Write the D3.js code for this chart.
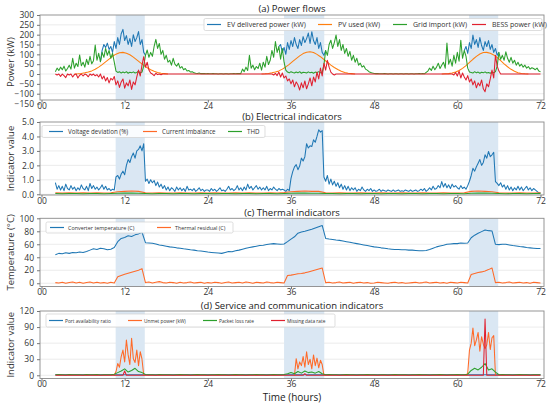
<!DOCTYPE html>
<html><head><meta charset="utf-8">
<script src="https://cdn.jsdelivr.net/npm/d3@7"></script>
<style>body{margin:0;background:#fff}svg{display:block}</style>
</head><body><svg id="c" width="550" height="407"></svg>
<script>
// ---------------- DATA ----------------
const xTickValues = [0, 12, 24, 36, 48, 60, 72];
const xTickLabels = ['00', '12', '24', '36', '48', '60', '72'];
const anomalyWindows = [[10.7, 14.9], [35.0, 40.8], [61.7, 65.9]];

// Grid import (kW), every 0.25 h from 2 h
const gridImport = [
 12,30,18,35, 22,40,15,28, 45,25,80,30, 55,38,97,42, 60,35,75,48, 90,52,68,147, 70,105,62,110, 85,130,95,120, 80,105,60,15,
 8,12,5,10, 6,12,4,9, 6,11,5,8, 14,6,10,40,
 95,122,85,110, 90,140,176,130, 155,100,120,75, 95,60,70,45, 80,50,40,55, 30,38,22,28, 15,18,10,12,
 6,4,3,5, 2,3,2,1, 2,1,1,2, 1,1,0,1, 1,0,1,1, 0,1,1,2, 1,2,3,2,
 25,12,35,18, 95,30,45,22, 38,28,55,20, 60,35,90,48, 70,120,85,165, 110,140,75,130,
 60,20,10,6, 12,8,5,10, 6,12,4,9, 8,5,11,6, 9,4,10,7, 12,6,8,45,
 120,95,150,172, 130,160,198,140, 175,120,150,105, 130,90,115,70, 95,60,80,45, 55,35,42,25, 20,12,8,5,
 3,2,2,1, 1,1,2,1, 0,1,1,0, 1,1,0,1, 1,0,1,1, 0,1,1,0, 1,1,2,1, 2,1,8,15,
 30,18,40,22, 35,55,28,45, 60,30,157,50, 75,40,95,55, 110,65,172,80, 120,90,30,10,
 8,5,12,6, 10,4,9,6, 11,5,8,4, 9,6,12,40,
 110,75,95,70, 113,80,60,85, 55,70,45,60, 40,50,35,45, 30,38,25,32, 28,22,30,15, 12
];
// BESS power (kW), every 0.25 h from 2 h
const bessPower = [
 0,-5,0,-12, 0,-8,-18,0, -5,0,-15,-3, 0,-20,-6,0, -10,0,-4,-14, 0,-6,0,-9, -3,-15,0,-25, -10,-35,-18,-45,
 -22,-30,-12,-55, -35,-68,-40,-25, -72,-45,-60,-30, -78,-40,-55,-15, 20,-10,45,88, 35,60,20,5, 0,-8,4,-3, 0,-4,0,0,
 0,0,0,0, 0,0,0,0, 0,0,0,0, 0,0,0,0, 0,0,0,0, 0,0,0,0, 0,0,0,0, 0,0,0,0, 0,0,0,0, 0,0,0,0,
 0,0,0,0, 0,0,0,0, 0,0,0,0, 0,0,0,0, 0,0,0,0,
 0,0,-5,3, -8,10,-15,5, -20,-10,-35,-25, -50,-30,-65,-40, -55,-81,-45,-70, -35,-75,-50,-20, -60,-15,-40,10,
 -25,30,-10,55, 20,70,35,10, 0,-5,0,0,
 0,0,0,0, 0,0,0,0, 0,0,0,0, 0,0,0,0, 0,0,0,0, 0,0,0,0, 0,0,0,0, 0,0,0,0, 0,0,0,0, 0,0,0,0,
 0,0,0,0, 0,0,0,0, 0,0,0,0, 0,0,0,0, 0,0,0,0, 0,0,0,0,
 0,0,-5,8, -10,15,-20,5, -15,-30,-8,-40, -25,-55,-35,-70, -45,-60,-30,-75, -90,-50,-65,-25, 20,-20,95,40, 15,0,0,0,
 0,0,0,0, 0,0,0,0, 0,0,0,0, 0,0,0,0, 0,0,0,0, 0
];
// EV delivered power (kW), every 0.25 h, visible stretches
const evStarts = [8.5, 34.25, 61.0];
const evDay1 = [62,120,150,135,157,125,140,110,165,130,185,150,205,227,170,195,150,180,140,200,165,185,216,150,175,110,95];
const evDay2 = [140,150,110,135,100,160,125,170,140,185,150,130,175,145,190,160,180,208,155,215,170,150,185,130,160,110,95,120];
const evDay3 = [120,140,105,160,130,198,150,175,135,185,145,120,165,140,170,125,150,110,130,95,110];
// PV used (kW), every 0.5 h
const pvStarts = [4.75, 31.75, 57.75];
const pvDay1 = [0,1,3,6,10,16,24,35,48,62,76,90,101,108,110,106,98,86,72,58,44,32,22,14,8,4,2,0];
const pvDay2 = [0,1,3,6,10,16,25,36,49,64,78,92,104,111,113,109,100,88,74,60,45,33,23,14,8,4,2,0];
const pvDay3 = [0,1,2,5,10,18,29,43,59,75,90,102,109,110,106,97,84,68,52,37,24,14,7,3,1,0];

// Voltage deviation (%), every 0.25 h from 2 h
const voltageDev = [
 .8,.35,.6,.3, .55,.25,.7,.4, .3,.6,.35,.5, .25,.45,.3,.65, .4,.3,.55,.25, .75,.4,.6,.35, .5,.3,.45,.65, .35,.55,.3,.4,
 .25,.35,.3,1.2, 1.3,1.05,1.4,1.6, 1.35,2.0,2.4,2.2, 2.6,2.85,2.5,3.0, 3.1,3.35,3.0,3.5,
 .9,1.05,.75,1.0, .8,.95,.6,.85, .5,.7,.4,.6, .3,.5,.25,.45, .35,.2,.5,.3, .45,.25,.4,.2, .55,.3,.35,.25,
 .4,.2,.3,.45, .25,.35,.2,.3, .3,.2,.4,.25, .35,.2,.3,.45, .25,.3,.2,.35, .55,.3,.4,.25, .35,.6,.3,.45,
 .25,.5,.3,.7, .4,.55,.3,.45, .6,.35,.5,.3, .45,.3,.55,.25, .4,.3,.5,.35, .25,.4,.3,.35, .3,.2,.35,.25,
 1.1,1.57,1.9,2.05, 1.7,1.95,2.5,2.3, 2.6,3.5,3.2,3.35, 3.3,3.77,3.6,4.0, 4.46,4.3,4.4,1.2,
 .9,1.3,.7,1.05, .65,.9,.55,.8, .45,.7,.35,.6, .3,.55,.25,.45, .3,.45,.2,.35, .25,.5,.3,.2, .35,.25,.4,.2,
 .3,.2,.25,.35, .2,.3,.25,.2, .3,.25,.2,.3, .2,.25,.3,.2, .25,.2,.3,.25, .2,.3,.2,.25, .3,.2,.25,.35, .25,.4,.2,.3,
 .45,.3,.55,.35, .4,.6,.45,.88, .5,.75,.45,.65, .4,.7,.5,.6, .45,.35,.6,.4, .5,.35,.6,.9,
 1.3,1.8,1.6,1.9, 2.15,2.4,2.0,2.2, 2.73,2.5,2.96,2.6, 2.73,2.9,.88,.75,
 .6,.8,.5,.65, .35,.6,.3,.5, .25,.45,.3,.55, .3,.5,.25,.4, .55,.3,.45,.25, .4,.3,.2,.1, .1
];
// hourly from 2 h
const currentImbalance = [
 .1,.08,.1,.09,.1,.08,.1,.09,.1,.18,.2,.22,.2,.1,
 .09,.1,.08,.09,.1,.08,.09,.1,.08,.1,.09,.08,.1,.09,.1,.08,.09,.1,.09,
 .12,.18,.2,.22,.2,.2,.1,
 .09,.1,.08,.09,.1,.08,.09,.1,.08,.09,.1,.08,.09,.1,.08,.09,.1,.08,.09,.1,
 .2,.22,.2,.18,.1,
 .09,.08,.1,.09,.08,.1
];
const thd = [
 .05,.04,.05,.05,.04,.05,.05,.04,.05,.07,.08,.08,.07,.05,
 .04,.05,.05,.04,.05,.05,.04,.05,.05,.04,.05,.05,.04,.05,.05,.04,.05,.05,.04,
 .06,.07,.08,.08,.07,.07,.05,
 .05,.04,.05,.05,.04,.05,.05,.04,.05,.05,.04,.05,.05,.04,.05,.05,.04,.05,.05,.04,
 .07,.08,.08,.07,.05,
 .04,.05,.05,.04,.05,.05
];
// Converter temperature (C), every 0.5 h from 2 h
const converterTemp = [
 44,46, 45.5,47, 46,47.5, 47,48, 47.5,49, 51,53, 52,54, 53,51.5, 52.5,55,
 64,69, 70.5,73, 72,74.5, 76,78.5,
 62.5,62, 61.5,60.5, 59,58, 57,56, 55.5,54.5, 54,53, 52.5,51.5, 51,50, 49.5,49, 48,47.5, 47,46.5, 46,47.5,
 49,48.5, 50,51, 52.5,54, 55,56, 57,58, 58.5,59.5, 60.5,61, 60.5,60, 60.5,64,
 68,71.5, 77,79, 80,81.5, 83,85, 87,89,
 69,68, 67.5,66.5, 66,65, 64,63, 62,61, 60,59, 58,57, 56,55.5, 54.5,54, 53,52.5, 52,52, 51.5,51.5, 51,51,
 50.5,50, 50,50.5, 52,54, 56,57.5, 58.5,60, 60.5,61, 61,62, 61.5,62,
 70,74, 77,79.5, 82,81, 80.5,60,
 59.5,60, 60,59, 58,57.5, 56.5,56, 55,54.5, 54,53.5, 53.5
];
const thermalResidual = [
 1,.5, 1.5,0, 1,2, .5,1.5, 0,1, 2,.5, 1.5,.5, 1,0, 1.5,.5,
 10,12, 14,15.5, 17,18.5, 20,22.5,
 1,2, .5,1.5, 2.5,1, .5,1.5, 1,0, 1.5,.5, 1,2, .5,1, 1.5,0, 1,.5, 1.5,1, 0,1, 2,.5, 1,1.5, .5,2, 1,0, 1.5,1, .5,2, 1,.5, 1.5,1,
 .5,12, 12.5,13.5, 14.5,15, 16,17.5, 19,20.5, 22,23.5,
 1,1.5, .5,1, 2,.5, 1,1.5, 0,1, 1.5,.5, 1,0, .5,1.5, 1,.5, 0,1, 1.5,.5, 1,0, .5,1, 1.5,.5, 1,2, .5,1, 1.5,.5, 1,0, 1.5,1, .5,1.5, 1,.5,
 13.5,15, 16.5,17.5, 19,21, 23.5,1,
 1.5,.5, 1,2, .5,1, 1.5,.5, 1,0, 1.5,1, .5
];
// Service indicators
const portAvailability = [
 1,1,1,1,1,1,1,1,1,.9,.85,.85,.9,1,
 1,1,1,1,1,1,1,1,1,1,1,1,1,1,1,1,1,1,1,
 .95,.9,.85,.85,.85,.9,1,
 1,1,1,1,1,1,1,1,1,1,1,1,1,1,1,1,1,1,1,1,
 .9,.85,.85,.9,1,
 1,1,1,1,1,1
];
const unmetStarts = [10.5, 36.5, 61.25];
const unmetDay1 = [0,7,22,15,35,47,25,66,38,20,69,31,24,47,18,44,30,0];
const unmetDay2 = [0,31,12,25,18,35,15,44,20,30,12,38,18,32,14,28,20,0];
const unmetDay3 = [0,4,47,60,88,55,66,80,45,72,58,50,57,80,48,70,74,0];
// every 0.5 h from 2 h
const packetLoss = [
 1,1.5, 1,.5, 1.5,1, 1,1, .5,1.5, 1,1, 1.5,.5, 1,1, 1,2,
 5,8, 12,6, 9,13, 7,5, 1.5,1,
 1,.5, 1.5,1, 1,1, .5,1, 1.5,1, 1,.5, 1,1.5, 1,1, .5,1, 1,1.5, 1,1, .5,1, 1.5,1, 1,.5, 1,1, 1.5,1, 1,.5, 1,1.5, 1,1,
 1.5,3, 5,3, 7,4, 8,5, 6,4, 7,3, 1,1.5,
 1,1, .5,1, 1.5,1, 1,.5, 1,1, 1.5,1, 1,.5, 1,1, .5,1, 1.5,1, 1,1, .5,1, 1,1.5, 1,1, .5,1, 1,1.5, 1,.5, 1,1, 1.5,1, 1,2,
 9,13, 10,15, 22,10, 12,6, 1,1.5,
 1,1, .5,1, 1.5,1, 1,.5, 1,1, 1
];
// [hour, value]
const missingData = [[2,0],[11.75,0],[12,8],[12.25,0],[37.75,0],[38,3],[38.25,0],[63.75,0],[64,105],[64.25,0],[72,0]];

// ---------------- DRAWING ----------------
const FONT = '"Open Sans","Noto Sans",sans-serif';
const svg = d3.select('#c');
const L = 40, R = 544;
const x = d3.scaleLinear().domain([0, 72]).range([41.5, 540.5]);
const seq = (t0, step, vals) => vals.map((v, i) => [t0 + i * step, v]);

const C = {blue:'#1f77b4', orange:'#ff7f0e', orange2:'#ff6a28', green:'#2ca02c', red:'#e0202f', teal:'#1f77b4'};

const panels = [
 {title:'(a) Power flows', titleY:11.5, ylab:'Power (kW)', ylabY:62, top:15, bottom:100, domain:[-132,300],
  yTicks:[-150,-100,-50,0,50,100,150,200,250,300],
  series:[
   {label:'EV delivered power (kW)', color:C.blue, segs:[seq(evStarts[0],.25,evDay1),seq(evStarts[1],.25,evDay2),seq(evStarts[2],.25,evDay3)]},
   {label:'PV used (kW)', color:C.orange, segs:[seq(pvStarts[0],.5,pvDay1),seq(pvStarts[1],.5,pvDay2),seq(pvStarts[2],.5,pvDay3)]},
   {label:'Grid import (kW)', color:C.green, segs:[seq(2,.25,gridImport)]},
   {label:'BESS power (kW)', color:C.red, segs:[seq(2,.25,bessPower)]}
  ],
  legend:{x:204, y:18.5, w:338, h:12, font:7, lineX:[207,318,393,472], off:20}},
 {title:'(b) Electrical indicators', titleY:120, ylab:'Indicator value', top:122, bottom:195, domain:[-0.05,5],
  yTicks:[0,1,2,3,4,5],
  series:[
   {label:'Voltage deviation (%)', color:C.blue, segs:[seq(2,.25,voltageDev)]},
   {label:'Current imbalance', color:C.orange2, segs:[seq(2,1,currentImbalance)]},
   {label:'THD', color:C.green, segs:[seq(2,1,thd)]}
  ],
  legend:{x:42, y:125.5, w:223, h:12, font:6.2, lineX:[49,143,228], off:19}},
 {title:'(c) Thermal indicators', titleY:215.5, ylab:'Temperature (°C)', top:218.3, bottom:286.5, domain:[-5,100],
  yTicks:[0,20,40,60,80,100],
  series:[
   {label:'Converter temperature (C)', color:C.blue, segs:[seq(2,.5,converterTemp)]},
   {label:'Thermal residual (C)', color:C.orange2, segs:[seq(2,.5,thermalResidual)]}
  ],
  legend:{x:46, y:222, w:187, h:11, font:5.4, lineX:[50,157], off:18}},
 {title:'(d) Service and communication indicators', titleY:309, ylab:'Indicator value', top:311, bottom:378.5, domain:[-6,120],
  yTicks:[0,30,60,90,120],
  series:[
   {label:'Port availability ratio', color:C.teal, segs:[seq(2,1,portAvailability)]},
   {label:'Unmet power (kW)', color:C.orange2, segs:[seq(unmetStarts[0],.25,unmetDay1),seq(unmetStarts[1],.25,unmetDay2),seq(unmetStarts[2],.25,unmetDay3)]},
   {label:'Packet loss rate', color:C.green, segs:[seq(2,.5,packetLoss)]},
   {label:'Missing data rate', color:C.red, segs:[missingData]}
  ],
  legend:{x:46, y:314, w:289, h:13, font:4.8, lineX:[49,128,203,271], off:16}}
];

panels.forEach((p, pi) => {
  const y = d3.scaleLinear().domain(p.domain).range([p.bottom, p.top]);
  const g = svg.append('g');
  const cid = 'clip' + pi;
  svg.append('clipPath').attr('id', cid).append('rect')
     .attr('x', L).attr('y', p.top).attr('width', R - L).attr('height', p.bottom - p.top);

  // grid
  g.append('g').selectAll('line').data(p.yTicks.filter(v => y(v) <= p.bottom && y(v) > p.top + 0.5))
    .join('line').attr('x1', L).attr('x2', R).attr('y1', d => y(d)).attr('y2', d => y(d))
    .attr('stroke', '#e3e3e3').attr('stroke-width', 0.7);
  // anomaly shading
  g.append('g').selectAll('rect').data(anomalyWindows).join('rect')
    .attr('x', d => x(d[0])).attr('width', d => x(d[1]) - x(d[0]))
    .attr('y', p.top).attr('height', p.bottom - p.top).attr('fill', '#dae7f3');
  // series
  const line = d3.line().x(d => x(d[0])).y(d => y(d[1]));
  const sg = g.append('g').attr('clip-path', `url(#${cid})`);
  p.series.forEach(s => s.segs.forEach(seg => {
    sg.append('path').datum(seg).attr('d', line).attr('fill', 'none')
      .attr('stroke', s.color).attr('stroke-width', 1.05).attr('stroke-linejoin', 'round');
  }));
  // frame
  g.append('rect').attr('x', L).attr('y', p.top).attr('width', R - L).attr('height', p.bottom - p.top)
    .attr('fill', 'none').attr('stroke', '#8a8a8a').attr('stroke-width', 0.9);
  // axes
  const ya = g.append('g').attr('transform', `translate(${L},0)`)
    .call(d3.axisLeft(y).tickValues(p.yTicks).tickSize(3).tickPadding(3));
  const xa = g.append('g').attr('transform', `translate(0,${p.bottom})`)
    .call(d3.axisBottom(x).tickValues(xTickValues).tickFormat((d, i) => xTickLabels[i]).tickSize(2.5).tickPadding(0));
  [ya, xa].forEach(a => {
    a.select('.domain').remove();
    a.selectAll('line').attr('stroke', '#777');
    a.selectAll('text').attr('font-family', FONT).attr('font-size', 8.5).attr('fill', '#333');
  });
  // title
  g.append('text').attr('x', 292).attr('y', p.titleY).attr('text-anchor', 'middle')
    .attr('font-family', FONT).attr('font-size', 9.5).attr('fill', '#222').text(p.title);
  // y label
  const cy = p.ylabY || (p.top + p.bottom) / 2;
  g.append('text').attr('transform', `translate(14,${cy}) rotate(-90)`).attr('text-anchor', 'middle')
    .attr('font-family', FONT).attr('font-size', 9.5).attr('fill', '#333').text(p.ylab);
  // legend
  const lg = p.legend;
  g.append('rect').attr('x', lg.x).attr('y', lg.y).attr('width', lg.w).attr('height', lg.h).attr('rx', 1.5)
    .attr('fill', '#fff').attr('fill-opacity', 0.85).attr('stroke', '#d0d0d0').attr('stroke-width', 0.7);
  const ly = lg.y + lg.h / 2;
  p.series.forEach((s, i) => {
    g.append('line').attr('x1', lg.lineX[i]).attr('x2', lg.lineX[i] + 14).attr('y1', ly).attr('y2', ly)
      .attr('stroke', s.color).attr('stroke-width', 1.2);
    g.append('text').attr('x', lg.lineX[i] + lg.off).attr('y', ly).attr('dominant-baseline', 'central')
      .attr('font-family', FONT).attr('font-size', lg.font).attr('fill', '#333').text(s.label);
  });
});

svg.append('text').attr('x', 292).attr('y', 401).attr('text-anchor', 'middle')
  .attr('font-family', FONT).attr('font-size', 10).attr('fill', '#222').text('Time (hours)');
</script></body></html>
